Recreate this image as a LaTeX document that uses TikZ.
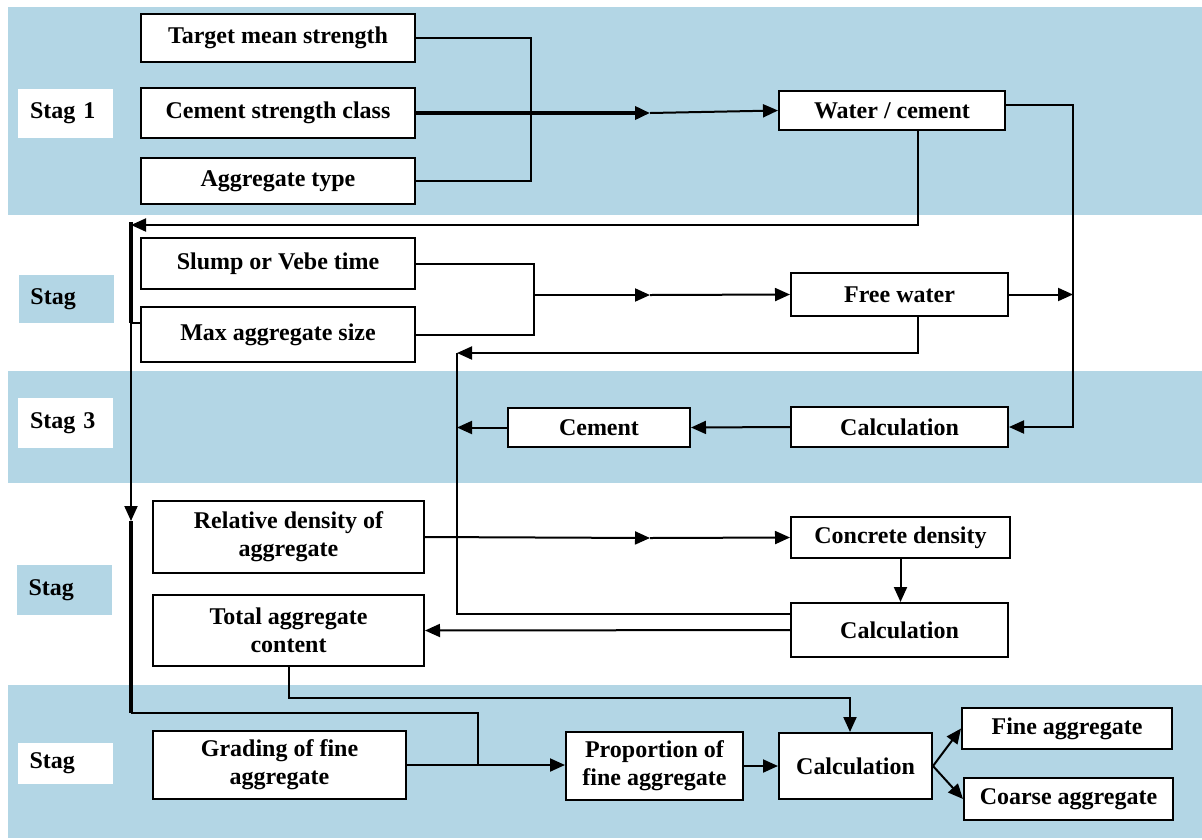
\documentclass[tikz,border=0pt]{standalone}
\usepackage{fontspec}
\setmainfont{Liberation Serif}
\usetikzlibrary{arrows.meta,calc}
\definecolor{band}{RGB}{179,214,229}
\tikzset{
 box/.style={draw=black, line width=2pt, fill=white, font=\bfseries\fontsize{24}{28}\selectfont, align=center, inner sep=0pt},
 stagebox/.style={draw=none, font=\bfseries\fontsize{24}{28}\selectfont, align=left, inner xsep=12pt, inner ysep=0pt, text width=71pt},
 conn/.style={line width=2pt},
 thk/.style={line width=3.6pt},
 tip/.style={-{Triangle[length=15pt,width=13pt]}},
}
\begin{document}
\begin{tikzpicture}[x=1pt,y=-1pt]
\useasboundingbox (0,0) rectangle (1202,839);
% bands
\fill[band] (8,7) rectangle (1202,215);
\fill[band] (8,371) rectangle (1202,483);
\fill[band] (8,685) rectangle (1202,838);
% stage labels
\node[stagebox, fill=white, minimum height=49pt] (s1) at (65.5,113.5) {Stag 1};
\node[stagebox, fill=band, minimum height=48pt] (s2) at (66,299) {Stag};
\node[stagebox, fill=white, minimum height=50pt] (s3) at (65.5,423) {Stag 3};
\node[stagebox, fill=band, minimum height=50pt] (s4) at (64,590) {Stag};
\node[stagebox, fill=white, minimum height=41pt] (s5) at (65,763.5) {Stag};
% boxes
\node[box, minimum width=274pt, minimum height=48pt] (tms) at (278,38) {Target mean strength};
\node[box, minimum width=274pt, minimum height=50pt] (csc) at (278,113) {Cement strength class};
\node[box, minimum width=274pt, minimum height=46pt] (agt) at (278,181) {Aggregate type};
\node[box, minimum width=226pt, minimum height=39pt] (wc) at (892,110.5) {Water / cement};
\node[box, minimum width=274pt, minimum height=51pt] (slump) at (278,263.5) {Slump or Vebe time};
\node[box, minimum width=274pt, minimum height=55pt] (maxagg) at (278,334.5) {Max aggregate size};
\node[box, minimum width=217pt, minimum height=43pt] (fw) at (899.5,294.5) {Free water};
\node[box, minimum width=182pt, minimum height=39pt] (cement) at (599,427.5) {Cement};
\node[box, minimum width=217pt, minimum height=40pt] (calc1) at (899.5,427) {Calculation};
\node[box, minimum width=271pt, minimum height=72pt] (reld) at (288.5,537) {Relative density of\\aggregate};
\node[box, minimum width=219pt, minimum height=41pt] (cd) at (900.5,537.5) {Concrete density};
\node[box, minimum width=217pt, minimum height=54pt] (calc2) at (899.5,630) {Calculation};
\node[box, minimum width=271pt, minimum height=71pt] (tac) at (288.5,630.5) {Total aggregate\\content};
\node[box, minimum width=253pt, minimum height=68pt] (gfa) at (279.5,765) {Grading of fine\\aggregate};
\node[box, minimum width=177pt, minimum height=68pt] (pfa) at (654.5,766) {Proportion of\\fine aggregate};
\node[box, minimum width=153pt, minimum height=66pt] (calc3) at (855.5,766) {Calculation};
\node[box, minimum width=210pt, minimum height=41pt] (fa) at (1067,728.5) {Fine aggregate};
\node[box, minimum width=209pt, minimum height=42pt] (ca) at (1068.5,799) {Coarse aggregate};
% stage 1 connectors
\coordinate (bus1) at (531,113);
\draw[conn] (tms.east) -| (bus1);
\draw[conn] (agt.east) -| (bus1);
\coordinate (j1) at (650,113);
\draw[thk,tip] (csc.east) -- (j1);
\draw[conn,tip] (j1) -- (wc.west);
\coordinate (wcR) at ($(wc.east)+(0,-5.5)$);
\coordinate (rb) at (1073,105);
\draw[conn,tip] (wcR) -- (rb) |- (calc1.east);
\draw[conn,tip] (fw.east) -- (fw.east -| rb);
% left trunk
\coordinate (wcS) at ($(wc.south)+(26,0)$);
\coordinate (lt) at (131,225);
\draw[conn,tip] (wcS) |- (lt);
\coordinate (lm) at (131,323);
\coordinate (la) at (131,521);
\coordinate (lb) at (131,713);
\coordinate (lc) at (478,713);
\draw[thk] (131,222) -- (lm);
\draw[conn] (lm) -- (lm -| maxagg.west);
\draw[conn,tip] (lm) -- (la);
\draw[thk] (la) -- (lb);
\draw[conn] (lb) -- (lc) -- (lc |- gfa.east);
% stage 2
\coordinate (bus2) at (534,295);
\draw[conn] (slump.east) -| (bus2);
\draw[conn] (maxagg.east) -| (bus2);
\coordinate (j2) at (650,295);
\draw[conn,tip] (bus2) -- (j2);
\draw[conn,tip] (j2) -- (fw.west);
\coordinate (fwS) at ($(fw.south)+(18.5,0)$);
\coordinate (mt) at (457,353);
\draw[conn,tip] (fwS) |- (mt);
\coordinate (mb) at (457,614);
\draw[conn] (mt) -- (mb) -- (mb -| calc2.west);
% stage 3
\draw[conn,tip] (cement.west) -- (cement.west -| mt);
\draw[conn,tip] (calc1.west) -- (cement.east);
% stage 4
\coordinate (j3) at (650,538);
\draw[conn,tip] (reld.east) -- (j3);
\draw[conn,tip] (j3) -- (cd.west);
\draw[conn,tip] (cd.south) -- (cd.south |- calc2.north);
\draw[conn,tip] (calc2.west) -- (tac.east);
\coordinate (tk) at (850,698);
\draw[conn,tip] (tac.south) |- (tk) -- (tk |- calc3.north);
% stage 5
\draw[conn,tip] (gfa.east) -- (gfa.east -| pfa.west);
\draw[conn,tip] (pfa.east) -- (calc3.west);
\draw[conn,tip] (calc3.east) -- (fa.west);
\draw[conn,tip] (calc3.east) -- (ca.west);
\end{tikzpicture}
\end{document}
